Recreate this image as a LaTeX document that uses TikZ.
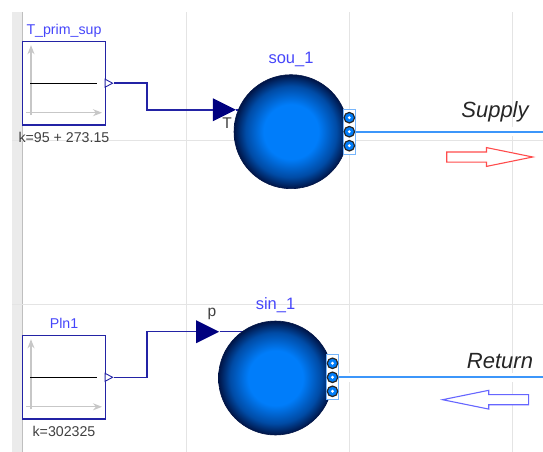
\documentclass[tikz,border=0pt]{standalone}
\usepackage{fontspec}
\setmainfont{Liberation Sans}
\usetikzlibrary{
   arrows.meta,
   calc,
   positioning,
   shapes.geometric,
   shapes.arrows
}
\definecolor{labelblue}{RGB}{70,70,250}
\definecolor{framenavy}{RGB}{35,35,165}
\definecolor{solidnavy}{RGB}{0,0,127}
\definecolor{ballmid}{RGB}{0,125,250}
\definecolor{ballshadow}{RGB}{0,75,165}
\definecolor{balldark}{RGB}{0,20,70}
\definecolor{wireblue}{RGB}{60,150,250}
\definecolor{gridgray}{RGB}{228,228,228}
\pgfdeclareradialshading{ballshade}{\pgfpoint{0bp}{0bp}}{
   color(0bp)=(ballmid); color(12bp)=(ballmid); color(20bp)=(ballshadow);
   color(25bp)=(balldark); color(50bp)=(balldark)}

\begin{document}
\begin{tikzpicture}[
    x=1pt, y=-1pt,
    every node/.style={font=\fontsize{14.2}{16}\selectfont, text=black!75},
    blockbox/.style={rectangle, draw=framenavy, line width=1.3pt, fill=white, minimum width=83pt, minimum height=83.5pt, inner sep=0pt},
    outtip/.style={isosceles triangle, isosceles triangle stretches, draw=framenavy, fill=white, line width=.9pt, minimum width=8pt, minimum height=7.5pt, inner sep=0pt},
    intip/.style={isosceles triangle, isosceles triangle stretches, fill=solidnavy, minimum width=23pt, minimum height=23pt, inner sep=0pt},
    ball/.style={circle, draw=balldark, shade, shading=ballshade, line width=.6pt, minimum size=114pt, inner sep=0pt},
    portbox/.style={rectangle, draw=wireblue!70, fill=white, line width=1pt, minimum width=12pt, minimum height=45pt, inner sep=0pt},
    portdot/.style={circle, draw=black!85, fill=ballmid, line width=1.2pt, minimum size=10.5pt, inner sep=0pt},
    conn/.style={draw=framenavy, line width=1.5pt},
    wire/.style={draw=wireblue, line width=1.8pt, preaction={draw=white, line width=9pt}},
    gridline/.style={draw=gridgray, line width=1pt},
    axisline/.style={draw=black!22, line width=1.2pt, -{Stealth[length=9pt,width=7pt]}},
    blockname/.style={text=labelblue},
    ballname/.style={text=labelblue, font=\fontsize{16.5}{18}\selectfont},
    portlabel/.style={font=\fontsize{15.5}{18}\selectfont},
    flowarrow/.style={single arrow, minimum width=17.7pt, minimum height=86pt, single arrow head extend=4.35pt, single arrow tip angle=23, single arrow head indent=0pt, inner sep=0pt, text height=9pt, text depth=0pt, line width=1.1pt},
    flowlabel/.style={font=\fontsize{22}{24}\selectfont\itshape, text=black!85}
]
\useasboundingbox (0,0) rectangle (543,452);

\fill[black!8] (12,12) rectangle (22,452);
\draw[draw=black!25, line width=1pt] (22.5,12) -- (22.5,452);
\foreach \gx in {186,349,512} \draw[gridline] (\gx,12) -- (\gx,452);
\foreach \gy in {140,304} \draw[gridline] (12,\gy) -- (543,\gy);

\node[blockbox] (primsup) at (64,83.2) {};
\node[blockbox] (plnone) at (64,377.3) {};
\node[blockname, above=0pt of primsup] (primsupname) {T\_prim\_sup};
\node[blockname, above=3pt of plnone] (plnonename) {Pln1};
\node[below=3pt of primsup] (primsupk) {k=95 + 273.15};
\node[below=3pt of plnone] (plnonek) {k=302325};

\foreach \blk in {primsup,plnone} {
  \draw[axisline] ($(\blk.center)+(-33,32)$) -- ($(\blk.center)+(-33,-38)$);
  \draw[axisline] ($(\blk.center)+(-38,29.5)$) -- ($(\blk.center)+(38,29.5)$);
  \draw[black, line width=1.2pt] ($(\blk.center)+(-34,0)$) -- ($(\blk.center)+(32.5,0)$);
}

\node[outtip, right=-1.5pt of primsup] (primsupout) {};
\node[outtip, right=-1.5pt of plnone] (plnoneout) {};

\coordinate (soucentre) at (291,131.7);
\coordinate (sincentre) at (275.5,378);
\node[intip] (tempin) at (220,109.8) {};
\node[intip] (presin) at (203.2,331.7) {};
\draw[conn] (tempin.east) -- (tempin.east -| soucentre);
\draw[conn] (presin.east) -- (presin.east -| sincentre);
\node[ball] (sou) at (soucentre) {};
\node[ball] (sin) at (sincentre) {};

\node[portbox] (souport) at (349.3,131.7) {};
\node[portbox] (sinport) at (332.5,377.3) {};
\coordinate (supend) at (543,131.7);
\coordinate (retend) at (543,377.3);

\draw[conn] (primsupout.east) -- ++(33,0) |- (tempin.west);
\draw[conn] (plnoneout.east) -- ++(33,0) |- (presin.west);
\draw[wire] (souport.east) -- (supend);
\draw[wire] (sinport.east) -- (retend);

\foreach \prt in {souport,sinport} {
  \foreach \off/\nm in {-14/a,0/b,14/c} {
    \node[portdot] (\prt\nm) at ($(\prt.center)+(0,\off)$) {};
    \fill[white] (\prt\nm) circle (1.6pt);
  }
}

\node[ballname, above=4pt of sou] (souname) {sou\_1};
\node[ballname, above=4pt of sin] (sinname) {sin\_1};
\node[portlabel] (templabel) at (227,123) {T};
\node[portlabel] (preslabel) at (212,314) {p};

\node[flowlabel] (supplylabel) at (495,112) {Supply};
\node[flowlabel] (returnlabel) at (500,361) {Return};
\node[flowarrow, draw=red!70, fill=white] (supplyarrow) at (477.3,157) {};
\node[flowarrow, draw=blue!60, fill=white, shape border rotate=180] (returnarrow) at (498,399.7) {};
\end{tikzpicture}
\end{document}
